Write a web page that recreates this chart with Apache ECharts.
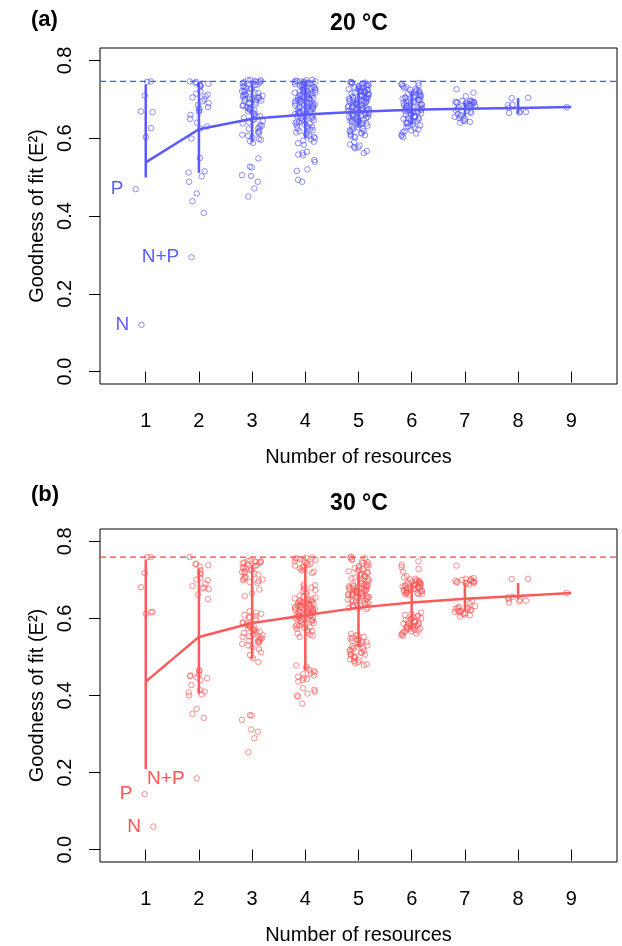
<!DOCTYPE html>
<html><head><meta charset="utf-8">
<script src="https://cdn.jsdelivr.net/npm/echarts@6/dist/echarts.min.js"></script>
<style>html,body{margin:0;padding:0;background:#fff}#c{width:622px;height:946px}</style>
</head><body><div id="c"></div>
<script>
// ---------- data ----------
const categories = [1, 2, 3, 4, 5, 6, 7, 8, 9];
const yTicks = [0, 0.2, 0.4, 0.6, 0.8];
const titleA = '20 °C';
const titleB = '30 °C';

// Panel (a) 20 °C : goodness of fit per combination, grouped by number of resources
const a1 = [0.746, 0.745, 0.710, 0.669, 0.667, 0.626, 0.603];
const a2 = [0.746, 0.745, 0.742, 0.740, 0.738, 0.736, 0.735, 0.733, 0.720, 0.715, 0.712, 0.708, 0.705,
  0.700, 0.695, 0.690, 0.685, 0.680, 0.676, 0.672, 0.668, 0.660, 0.650, 0.640, 0.630, 0.625,
  0.599, 0.549, 0.515, 0.512, 0.502, 0.488, 0.458, 0.438, 0.408];
const a3 = [0.750, 0.749, 0.749, 0.747, 0.746, 0.745, 0.744, 0.743, 0.741, 0.740,
  0.738, 0.737, 0.734, 0.733, 0.730, 0.727, 0.726, 0.723, 0.721, 0.719, 0.717, 0.716, 0.713, 0.711, 0.710,
  0.709, 0.707, 0.706, 0.705, 0.704, 0.703, 0.702, 0.701, 0.700, 0.699,
  0.697, 0.695, 0.694, 0.691, 0.689, 0.688, 0.685, 0.683, 0.681, 0.679, 0.677, 0.675, 0.673, 0.671, 0.669,
  0.667, 0.663, 0.661, 0.657, 0.655, 0.653, 0.649, 0.647, 0.644, 0.641, 0.638, 0.635, 0.632, 0.630,
  0.626, 0.624, 0.619, 0.616, 0.613, 0.609, 0.606, 0.602, 0.598, 0.596, 0.592, 0.588,
  0.548, 0.527, 0.525, 0.505, 0.503, 0.488, 0.471, 0.450];
const a4 = [0.750, 0.749, 0.748, 0.747, 0.746, 0.746, 0.745, 0.744, 0.743, 0.742, 0.741, 0.740,
  0.739, 0.738, 0.737, 0.736, 0.735, 0.733, 0.732, 0.731, 0.730, 0.729, 0.727, 0.726, 0.725, 0.724, 0.723, 0.722, 0.721, 0.720,
  0.719, 0.718, 0.717, 0.716, 0.715, 0.713, 0.712, 0.711, 0.710, 0.709, 0.707, 0.706, 0.705, 0.704, 0.703, 0.702, 0.701, 0.700,
  0.699, 0.698, 0.697, 0.696, 0.695, 0.693, 0.692, 0.691, 0.690, 0.689, 0.687, 0.686, 0.685, 0.684, 0.683, 0.682, 0.681, 0.680,
  0.679, 0.678, 0.676, 0.675, 0.674, 0.673, 0.671, 0.670, 0.669, 0.668, 0.666, 0.665, 0.664, 0.663, 0.662, 0.661,
  0.659, 0.657, 0.656, 0.654, 0.652, 0.651, 0.649, 0.647, 0.646, 0.644, 0.642, 0.641,
  0.639, 0.637, 0.635, 0.633, 0.631, 0.629, 0.627, 0.625, 0.623, 0.621,
  0.618, 0.615, 0.612, 0.609, 0.606, 0.603, 0.600, 0.597, 0.594, 0.591, 0.587, 0.583,
  0.565, 0.562, 0.558, 0.556, 0.544, 0.539, 0.520, 0.516, 0.493, 0.488];
const a5 = [0.745, 0.744, 0.743, 0.742, 0.741, 0.740, 0.739, 0.738, 0.737, 0.736, 0.735, 0.733, 0.732, 0.731,
  0.729, 0.728, 0.727, 0.726, 0.725, 0.724, 0.722, 0.721, 0.720, 0.719, 0.718, 0.717, 0.715, 0.714, 0.713, 0.712, 0.711, 0.710,
  0.709, 0.708, 0.707, 0.706, 0.705, 0.704, 0.703, 0.702, 0.701, 0.700, 0.699, 0.698, 0.697, 0.696, 0.695, 0.694, 0.693, 0.692, 0.691, 0.690,
  0.689, 0.688, 0.687, 0.686, 0.685, 0.684, 0.683, 0.682, 0.681, 0.680, 0.679, 0.678, 0.677, 0.676, 0.675, 0.674, 0.673, 0.672, 0.671, 0.670,
  0.669, 0.668, 0.667, 0.665, 0.664, 0.663, 0.662, 0.661, 0.660, 0.659, 0.658, 0.657, 0.655, 0.654, 0.653, 0.652, 0.651, 0.650,
  0.649, 0.647, 0.646, 0.645, 0.643, 0.642, 0.641, 0.639, 0.638, 0.637, 0.635, 0.634, 0.632, 0.630,
  0.628, 0.626, 0.624, 0.622, 0.620, 0.618, 0.616, 0.614, 0.612, 0.610, 0.608, 0.606, 0.604, 0.602,
  0.590, 0.584, 0.581, 0.578, 0.576, 0.574, 0.567, 0.562];
const a6 = [0.742, 0.740, 0.738, 0.736, 0.734, 0.731,
  0.729, 0.727, 0.725, 0.724, 0.722, 0.720, 0.718, 0.716, 0.715, 0.713, 0.712, 0.710,
  0.709, 0.708, 0.707, 0.705, 0.704, 0.703, 0.702, 0.700, 0.699, 0.698, 0.696, 0.695, 0.694, 0.693, 0.691, 0.690,
  0.689, 0.688, 0.686, 0.685, 0.684, 0.683, 0.682, 0.680, 0.679, 0.678, 0.676, 0.675, 0.674, 0.673, 0.671, 0.670,
  0.669, 0.667, 0.666, 0.664, 0.663, 0.661, 0.660, 0.658, 0.657, 0.655, 0.654, 0.652, 0.651, 0.650,
  0.648, 0.646, 0.644, 0.643, 0.641, 0.639, 0.637, 0.635, 0.633, 0.631,
  0.628, 0.626, 0.623, 0.620, 0.618, 0.615, 0.612, 0.609, 0.606, 0.603];
const a7 = [0.726, 0.717, 0.708, 0.697, 0.696, 0.695, 0.694, 0.694, 0.693, 0.692, 0.692, 0.691, 0.690, 0.690, 0.689, 0.688,
  0.686, 0.684, 0.683, 0.680, 0.678, 0.675, 0.672, 0.670, 0.668, 0.665,
  0.662, 0.660, 0.657, 0.655, 0.652, 0.650, 0.646, 0.644, 0.642, 0.640];
const a8 = [0.704, 0.703, 0.686, 0.685, 0.678, 0.668, 0.667, 0.666, 0.665];
const a9 = [0.680];
const labeledA = [['P', 1, 0.469], ['N', 1, 0.120], ['N+P', 2, 0.294]];
const meanA = [0.538, 0.623, 0.650, 0.661, 0.668, 0.673, 0.676, 0.678, 0.680];
const lowA  = [0.499, 0.511, 0.590, 0.600, 0.630, 0.635, 0.656, 0.663, 0.680];
const highA = [0.738, 0.744, 0.748, 0.745, 0.730, 0.720, 0.692, 0.703, 0.680];
const refA = 0.746;

// Panel (b) 30 °C
const b1 = [0.759, 0.759, 0.718, 0.681, 0.617, 0.616, 0.612];
const b2 = [0.759, 0.742, 0.740, 0.738, 0.735, 0.725, 0.718, 0.715, 0.705, 0.701, 0.699, 0.690, 0.684, 0.680, 0.678, 0.676, 0.662, 0.650,
  0.466, 0.464, 0.455, 0.452, 0.450, 0.447, 0.445, 0.440, 0.427, 0.414, 0.410, 0.408, 0.403, 0.400, 0.365, 0.352, 0.342];
const b3 = [0.750, 0.749, 0.748, 0.748, 0.747, 0.746, 0.745, 0.744, 0.743, 0.741,
  0.738, 0.736, 0.734, 0.731, 0.729, 0.727, 0.725, 0.722, 0.720, 0.718, 0.716, 0.714,
  0.708, 0.705, 0.703, 0.701, 0.699, 0.697, 0.694, 0.692,
  0.675, 0.665, 0.658,
  0.619, 0.615, 0.612, 0.609, 0.606, 0.604, 0.601, 0.598,
  0.590, 0.588, 0.586, 0.584, 0.582, 0.580, 0.578, 0.576, 0.574, 0.572, 0.570, 0.568, 0.566, 0.564,
  0.562, 0.560, 0.558, 0.556, 0.554, 0.552, 0.550, 0.548, 0.546, 0.544, 0.542, 0.540, 0.539, 0.537,
  0.534, 0.530, 0.525, 0.520, 0.512, 0.505, 0.497, 0.487,
  0.349, 0.348, 0.337, 0.312, 0.306, 0.289, 0.253];
const b4 = [0.758, 0.757, 0.756, 0.755, 0.754, 0.752, 0.750, 0.748, 0.746, 0.744, 0.741, 0.739, 0.737, 0.735, 0.732, 0.730, 0.727, 0.724, 0.721, 0.718,
  0.688, 0.686, 0.683, 0.680, 0.677, 0.674, 0.671, 0.667, 0.663, 0.659,
  0.656, 0.654, 0.652, 0.650, 0.649, 0.647, 0.646, 0.645, 0.644, 0.643,
  0.642, 0.641, 0.640, 0.639, 0.638, 0.637, 0.636, 0.635, 0.634, 0.633,
  0.632, 0.631, 0.630, 0.629, 0.628, 0.627, 0.626, 0.625, 0.624, 0.623,
  0.622, 0.621, 0.620, 0.619, 0.618, 0.617, 0.616, 0.615, 0.614, 0.613,
  0.612, 0.611, 0.610, 0.609, 0.608, 0.607, 0.606, 0.605, 0.604, 0.603,
  0.602, 0.601, 0.599, 0.598, 0.596, 0.595, 0.593, 0.592, 0.590, 0.588,
  0.587, 0.585, 0.583, 0.581, 0.579, 0.577, 0.575, 0.573, 0.570, 0.567,
  0.564, 0.561, 0.558, 0.555, 0.552,
  0.478, 0.475, 0.470, 0.466, 0.463, 0.460, 0.457, 0.455, 0.452, 0.449, 0.446, 0.443, 0.440, 0.436,
  0.419, 0.415, 0.410, 0.405, 0.400, 0.397, 0.379];
const b5 = [0.760, 0.758, 0.756, 0.754, 0.752, 0.749, 0.746, 0.743,
  0.740, 0.738, 0.736, 0.734, 0.732, 0.730, 0.728, 0.726, 0.724, 0.722, 0.720, 0.718, 0.716, 0.714, 0.712, 0.710, 0.708, 0.706, 0.704, 0.702,
  0.699, 0.697, 0.695, 0.693, 0.691, 0.690, 0.688, 0.687, 0.686, 0.685,
  0.684, 0.683, 0.682, 0.681, 0.680, 0.679, 0.678, 0.677, 0.676, 0.675,
  0.674, 0.673, 0.672, 0.671, 0.670, 0.669, 0.668, 0.667, 0.666, 0.665,
  0.664, 0.663, 0.662, 0.661, 0.660, 0.659, 0.658, 0.657, 0.656, 0.655,
  0.654, 0.652, 0.651, 0.649, 0.648, 0.646, 0.645, 0.643, 0.641, 0.639,
  0.637, 0.636, 0.634, 0.633, 0.631, 0.630, 0.628, 0.627, 0.626, 0.624,
  0.560, 0.557, 0.555, 0.552, 0.550, 0.548, 0.546, 0.544, 0.542, 0.540,
  0.538, 0.536, 0.534, 0.532, 0.530, 0.528, 0.526, 0.524, 0.522, 0.520,
  0.518, 0.516, 0.514, 0.512, 0.510, 0.508, 0.506, 0.504, 0.502, 0.500,
  0.497, 0.494, 0.491, 0.489, 0.486, 0.484, 0.481, 0.479];
const b6 = [0.748, 0.739, 0.733, 0.728, 0.722,
  0.709, 0.706, 0.703, 0.701, 0.699, 0.697, 0.696, 0.695, 0.694, 0.693,
  0.692, 0.691, 0.690, 0.689, 0.688, 0.687, 0.686, 0.685, 0.684, 0.683,
  0.682, 0.681, 0.680, 0.679, 0.678, 0.677, 0.676, 0.675, 0.674, 0.673,
  0.672, 0.671, 0.670, 0.669, 0.668, 0.667, 0.666, 0.665, 0.664, 0.663, 0.662, 0.662,
  0.615,
  0.611, 0.609, 0.607, 0.605, 0.603, 0.601, 0.599, 0.597, 0.596, 0.594,
  0.593, 0.591, 0.590, 0.588, 0.587, 0.586, 0.584, 0.583, 0.582, 0.580,
  0.579, 0.578, 0.576, 0.575, 0.574, 0.572, 0.571, 0.570, 0.568, 0.567,
  0.565, 0.563, 0.561, 0.559, 0.557, 0.555];
const b7 = [0.737, 0.705, 0.703, 0.702, 0.700, 0.699, 0.698, 0.697, 0.696, 0.695, 0.694, 0.693, 0.692, 0.691, 0.690, 0.688,
  0.645, 0.640, 0.632, 0.630, 0.628, 0.627, 0.625, 0.624, 0.622, 0.621, 0.620, 0.619, 0.618, 0.617, 0.616, 0.614, 0.612, 0.610, 0.608, 0.605];
const b8 = [0.703, 0.702, 0.656, 0.654, 0.650, 0.648, 0.646, 0.644, 0.641];
const b9 = [0.666];
const labeledB = [['P', 1, 0.144], ['N', 1, 0.060], ['N+P', 2, 0.185]];
const meanB = [0.436, 0.552, 0.588, 0.608, 0.628, 0.641, 0.651, 0.658, 0.666];
const lowB  = [0.209, 0.404, 0.495, 0.465, 0.526, 0.572, 0.620, 0.650, 0.666];
const highB = [0.752, 0.729, 0.740, 0.740, 0.718, 0.692, 0.692, 0.692, 0.666];
const refB = 0.759;

// ---------- presentation ----------
const FONT = '"Liberation Sans", Arial, Helvetica, sans-serif';
const X_MIN = 0.14, X_MAX = 9.86, Y_MIN = -0.032, Y_MAX = 0.832;
const BLUE = { pt: 'rgba(80,80,255,0.8)', line: '#5a5aff', ref: '#5050ff', text: '#3333ff' };
const RED  = { pt: 'rgba(255,80,80,0.8)', line: '#ff5a5a', ref: '#ff4040', text: '#ff2a2a' };
// horizontal jitter of the three labelled points (as placed in the figure)
const labelJitterA = [-0.19, -0.08, -0.14];
const labelJitterB = [-0.02, 0.14, -0.04];

// deterministic pseudo-jitter of the other points (presentation only, +-0.2)
function jit(i, k) {
  const s = Math.sin((i + 1) * 12.9898 + (k + 1) * 78.233) * 43758.5453;
  return (s - Math.floor(s) - 0.5) * 0.4;
}

function panel(idx, groups, labeled, lj, mean, low, high, ref, col) {
  const pts = [];
  groups.forEach((arr, k) => arr.forEach((v, i) => pts.push([categories[k] + jit(i, k), v])));
  const labPts = labeled.map((d, i) => ({ name: d[0], value: [d[1] + lj[i], d[2]] }));
  const meanPts = categories.map((c, i) => [c, mean[i]]);
  const bars = categories.map((c, i) => [c, low[i], high[i]]);
  return [
    { type: 'line', xAxisIndex: idx, yAxisIndex: idx, data: [[X_MIN, ref], [X_MAX, ref]], symbol: 'none', silent: true, z: 2,
      lineStyle: { color: col.ref, width: 1.2, type: [6, 4] } },
    { type: 'scatter', xAxisIndex: idx, yAxisIndex: idx, data: pts, symbol: 'circle', symbolSize: 5.5,
      itemStyle: { color: 'rgba(0,0,0,0)', borderColor: col.pt, borderWidth: 1 }, silent: true, z: 3 },
    { type: 'scatter', xAxisIndex: idx, yAxisIndex: idx, data: labPts, symbol: 'circle', symbolSize: 5.5,
      itemStyle: { color: 'rgba(0,0,0,0)', borderColor: col.pt, borderWidth: 1 }, silent: true, z: 3,
      label: { show: true, position: 'left', distance: 9, formatter: p => p.name, fontSize: 19, fontFamily: FONT, color: col.text } },
    { type: 'line', xAxisIndex: idx, yAxisIndex: idx, data: meanPts, symbol: 'none', silent: true, z: 4,
      lineStyle: { color: col.line, width: 2.5 } },
    { type: 'custom', xAxisIndex: idx, yAxisIndex: idx, data: bars, silent: true, z: 4,
      renderItem: (params, api) => {
        const p1 = api.coord([api.value(0), api.value(1)]);
        const p2 = api.coord([api.value(0), api.value(2)]);
        return { type: 'line', shape: { x1: p1[0], y1: p1[1], x2: p2[0], y2: p2[1] },
          style: { stroke: col.line, lineWidth: 2.5 } };
      } }
  ];
}

function xAx(g) {
  return { type: 'value', gridIndex: g, min: X_MIN, max: X_MAX,
    axisLine: { show: false }, splitLine: { show: false },
    axisTick: { show: true, length: 11, customValues: categories, lineStyle: { color: '#000' } },
    axisLabel: { customValues: categories, fontSize: 20, fontFamily: FONT, color: '#000', margin: 27 },
    name: 'Number of resources', nameLocation: 'middle', nameGap: 63,
    nameTextStyle: { fontSize: 20, fontFamily: FONT, color: '#000' } };
}
function yAx(g) {
  return { type: 'value', gridIndex: g, min: Y_MIN, max: Y_MAX,
    axisLine: { show: false }, splitLine: { show: false },
    axisTick: { show: true, length: 11, customValues: yTicks, lineStyle: { color: '#000' } },
    axisLabel: { customValues: yTicks, rotate: 90, fontSize: 20, fontFamily: FONT, color: '#000', margin: 25,
      formatter: v => v.toFixed(1) },
    name: 'Goodness of fit (E²)', nameLocation: 'middle', nameGap: 51, nameRotate: 90,
    nameTextStyle: { fontSize: 20, fontFamily: FONT, color: '#000' } };
}

const chart = echarts.init(document.getElementById('c'), null, { renderer: 'canvas' });
chart.setOption({
  animation: false,
  backgroundColor: '#fff',
  grid: [
    { left: 100, top: 48, width: 517, height: 336, show: true, borderColor: '#000', borderWidth: 1, backgroundColor: 'rgba(0,0,0,0)' },
    { left: 100, top: 529, width: 517, height: 337, show: true, borderColor: '#000', borderWidth: 1, backgroundColor: 'rgba(0,0,0,0)' }
  ],
  xAxis: [xAx(0), xAx(1)],
  yAxis: [yAx(0), yAx(1)],
  graphic: [
    { type: 'text', left: 31, top: 9, style: { text: '(a)', font: 'bold 22px ' + FONT, fill: '#000' } },
    { type: 'text', x: 359, y: 24, style: { text: titleA, font: 'bold 23px ' + FONT, fill: '#000', textAlign: 'center', textVerticalAlign: 'middle' } },
    { type: 'text', left: 31, top: 484, style: { text: '(b)', font: 'bold 22px ' + FONT, fill: '#000' } },
    { type: 'text', x: 359, y: 504, style: { text: titleB, font: 'bold 23px ' + FONT, fill: '#000', textAlign: 'center', textVerticalAlign: 'middle' } }
  ],
  series: [
    ...panel(0, [a1, a2, a3, a4, a5, a6, a7, a8, a9], labeledA, labelJitterA, meanA, lowA, highA, refA, BLUE),
    ...panel(1, [b1, b2, b3, b4, b5, b6, b7, b8, b9], labeledB, labelJitterB, meanB, lowB, highB, refB, RED)
  ]
});
</script>
</body></html>
